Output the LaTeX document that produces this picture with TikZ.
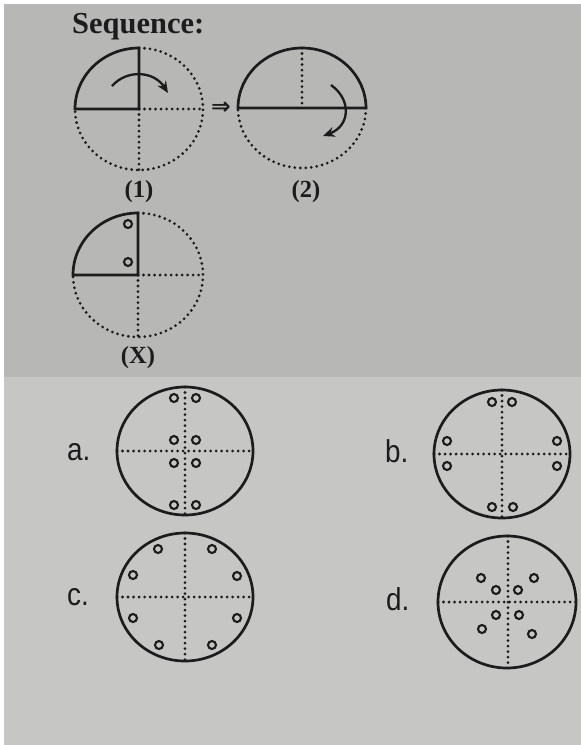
\documentclass[tikz,border=0pt]{standalone}
\usepackage{fontspec}
\setmainfont{Liberation Serif}
\newfontfamily\optfont[FakeStretch=0.88]{Liberation Sans}
\newfontfamily\symfont{DejaVu Sans}
\usetikzlibrary{arrows.meta}
\definecolor{PaperTop}{HTML}{B7B7B5}
\definecolor{PaperLow}{HTML}{C6C6C4}
\definecolor{InkBlack}{HTML}{1C1C1C}
\tikzset{
  solidline/.style={line width=2.3pt,draw=InkBlack},
  dotline/.style={line width=2.6pt,draw=InkBlack,line cap=round,
                  dash pattern=on 0pt off 4.7pt},
  ring/.style={line width=1.8pt,draw=InkBlack},
  turn/.style={line width=2pt,draw=InkBlack,
               -{Stealth[length=10pt,width=8.5pt]}},
  fig/.style={font=\fontsize{21}{24}\selectfont\bfseries,text=InkBlack,inner sep=0pt},
  opt/.style={font=\optfont\fontsize{27}{30}\selectfont,text=InkBlack,
              inner sep=0pt,anchor=base west},
}

\begin{document}
\begin{tikzpicture}[x=0.03cm,y=-0.03cm]

  \useasboundingbox (0,0) rectangle (581,745);
  \fill[white]    (0,0) rectangle (581,745);
  \fill[PaperTop] (4,4) rectangle (581,377);
  \fill[PaperLow] (4,377) rectangle (581,745);

  \node[font=\fontsize{26}{30}\selectfont\bfseries,text=InkBlack,
        inner sep=0pt,anchor=base west] (title) at (72,33) {Sequence:};

  % figure (1)
  \draw[solidline] (75,109) arc[start angle=180,end angle=270,x radius=64,y radius=61]
    -- (139,109) -- cycle;
  \draw[dotline] (139,48) arc[start angle=-90,end angle=180,x radius=64,y radius=61];
  \draw[dotline] (139,109) -- (203,109);
  \draw[dotline] (139,109) -- (139,170);
  \draw[turn] (112,86) .. controls (127,69) and (154,71) .. (168,93);
  \node[fig] (lab1) at (139,192) {(1)};

  \node[font=\symfont\bfseries\fontsize{20}{22}\selectfont,text=InkBlack,inner sep=0pt]
    (implies) at (221,108) {⇒};

  % figure (2)
  \draw[solidline] (238,108) arc[start angle=180,end angle=360,x radius=64,y radius=60]
    -- cycle;
  \draw[dotline] (366,108) arc[start angle=0,end angle=180,x radius=64,y radius=60];
  \draw[dotline] (302,48) -- (302,108);
  \draw[turn] (331,85) .. controls (352,100) and (350,126) .. (323,136);
  \node[fig] (lab2) at (306,192) {(2)};

  % figure (X)
  \draw[solidline] (73,275) arc[start angle=180,end angle=270,x radius=65,y radius=62]
    -- (138,275) -- cycle;
  \draw[dotline] (138,213) arc[start angle=-90,end angle=180,x radius=65,y radius=62];
  \draw[dotline] (138,275) -- (203,275);
  \draw[dotline] (138,275) -- (138,337);
  \draw[ring] (128,224) circle[radius=4];
  \draw[ring] (128,262) circle[radius=4];
  \node[fig] (labX) at (138,358) {(X)};

  % option a
  \node[opt] (opta) at (67,460) {a.};
  \draw[solidline] (185,451) ellipse[x radius=68,y radius=64];
  \draw[dotline] (117,451) -- (253,451);
  \draw[dotline] (185,387) -- (185,515);
  \foreach \dx in {-11,11}
    \foreach \dy in {-53,-11,12,54}
      \draw[ring] (185+\dx,451+\dy) circle[radius=4];

  % option b
  \node[opt] (optb) at (385,462) {b.};
  \draw[solidline] (502,454) ellipse[x radius=68,y radius=64];
  \draw[dotline] (434,454) -- (570,454);
  \draw[dotline] (502,390) -- (502,518);
  \foreach \px/\py in {-10/-52,10/-52,-10/53,11/53,-55/-13,-55/12,55/-13,55/12}
    \draw[ring] (502+\px,454+\py) circle[radius=4];

  % option c
  \node[opt] (optc) at (67,605) {c.};
  \draw[solidline] (185,597) ellipse[x radius=68,y radius=64];
  \draw[dotline] (117,597) -- (253,597);
  \draw[dotline] (185,533) -- (185,661);
  \foreach \px/\py in {-27/-48,27/-48,-52/-22,52/-21,-52/21,52/21,-26/48,27/48}
    \draw[ring] (185+\px,597+\py) circle[radius=4];

  % option d
  \node[opt] (optd) at (386,610) {d.};
  \draw[solidline] (507,602) ellipse[x radius=69,y radius=66];
  \draw[dotline] (438,602) -- (576,602);
  \draw[dotline] (508,536) -- (508,668);
  \foreach \px/\py in {-26/-24,27/-24,-11/-12,11/-12,-11/13,12/13,-25/27,25/32}
    \draw[ring] (507+\px,602+\py) circle[radius=4];

\end{tikzpicture}
\end{document}
